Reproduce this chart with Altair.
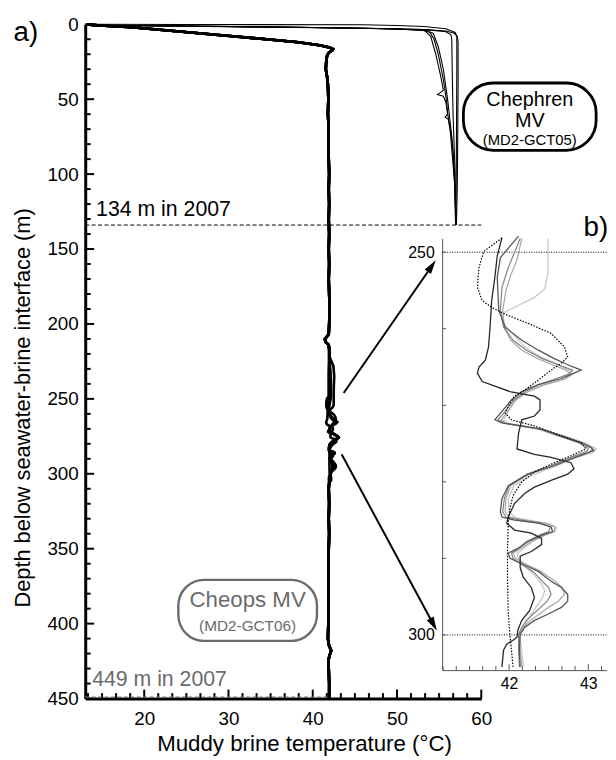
import altair as alt
import pandas as pd

FONT = "Liberation Sans"

# ---------------- Chephren MV (MD2-GCT05) profiles: depth (m), temperature (°C)
CH1_D = [0, 0.7, 1.5, 2.5, 3.5, 4.5, 6, 8, 12, 40, 80, 110, 134]
CH1_T = [13.2, 14.9, 30, 45, 53, 55.8, 56.8, 57.15, 57.25, 57.25, 57.2, 57.15, 57.05]
CH2_D = [0, 0.6, 1.6, 2.6, 3.6, 5, 7, 10, 30, 60, 100, 134]
CH2_T = [13.2, 14.8, 32, 46, 53.5, 55.8, 56.4, 56.5, 56.55, 56.65, 56.9, 56.95]
CH3_D = [0, 0.8, 1.8, 2.8, 3.8, 8, 20, 35, 44, 45.8, 46.9, 48, 52, 70, 90, 110, 134]
CH3_T = [13.2, 15, 33, 48, 53.2, 54.0, 54.6, 55.2, 55.5, 55.1, 54.8, 55.5, 55.8, 56.3, 56.6, 56.9, 57.0]
CH4_D = [0, 0.7, 1.2, 2.2, 3.2, 4.3, 10, 20, 37, 52, 60, 62, 63.5, 80, 100, 120, 134]
CH4_T = [13.2, 14.9, 25, 40, 50, 53.8, 54.4, 54.9, 55.5, 55.9, 56.0, 55.7, 56.1, 56.6, 56.8, 56.9, 56.95]
CH5_D = [0, 0.5, 1, 2, 3, 4, 6, 15, 30, 50, 75, 100, 134]
CH5_T = [13.2, 14.5, 22, 38, 49, 53, 54.3, 54.9, 55.5, 56.0, 56.5, 56.8, 57.0]
CH6_D = [0, 0.15, 0.3, 0.8, 1.5, 3, 5.5, 8, 30, 80, 134]
CH6_T = [13.2, 25, 46, 50, 53.2, 55.8, 56.9, 57.1, 57.1, 57.05, 57.0]

# ---------------- Cheops MV (MD2-GCT06): shared upper and lower parts
CU_D = [0, 0.4, 0.8, 2, 4, 6, 8, 10, 12, 14, 15.5, 16.5, 17.5, 19, 21, 25, 30, 35, 40, 50,
        60, 70, 80, 90, 100, 110, 120, 130, 140, 150, 160, 170, 180, 190, 200, 207, 210, 212, 214, 217]
CU_T = [13.2, 13.8, 14.8, 18.5, 22.5, 26.5, 30.5, 34.5, 38.3, 40.8, 42.0, 42.4, 42.3, 41.9, 41.7, 41.6, 41.55, 41.7, 41.8, 41.85,
        41.8, 41.9, 41.85, 41.9, 41.95, 41.9, 41.95, 41.9, 41.95, 41.9, 41.95, 41.9, 41.95, 42.0, 41.95, 41.9, 41.45, 41.5, 41.9, 41.95]
CL_D = [306, 310, 320, 330, 340, 350, 360, 370, 380, 390, 400, 410, 415, 418, 421, 425, 430, 440, 450]
CL_T = [41.95, 41.9, 41.95, 41.9, 41.95, 41.9, 41.85, 41.9, 41.85, 41.9, 41.85, 41.8, 41.95, 42.2, 42.0, 41.85, 41.9, 41.95, 41.95]

# ---------------- Cheops detailed profiles (zoomed in panel b)
A_D = [222, 232, 240, 245, 248.1, 250.5, 253.3, 256.3, 259.8, 262.4, 264.1, 265.0, 265.8, 266.9, 267.5, 268.2, 268.5, 268.8,
       269.3, 270.6, 271.4, 271.9, 273.6, 275.7, 276.4, 276.8, 277.5, 278.3, 279.0, 279.8, 280.7, 281.5, 282.8, 284.6,
       285.4, 286.3, 286.7, 287.4, 288.2, 289.1, 289.7, 291.2, 292.5, 293.8, 295.1, 296.8, 298.1, 299.4, 300.3, 300.7,
       301.2, 302.0, 304.2]
A_T = [41.95, 41.9, 41.9, 41.92, 41.91, 41.85, 41.82, 41.78, 41.76, 41.74, 41.70, 41.62, 41.60, 41.66, 41.82, 42.01, 42.16, 42.32,
       42.39, 42.39, 42.32, 42.16, 42.12, 42.10, 42.32, 42.53, 42.78, 42.82, 42.74, 42.53, 42.32, 42.20, 42.07, 41.99,
       41.97, 42.07, 42.28, 42.41, 42.41, 42.28, 42.14, 42.14, 42.18, 42.28, 42.32, 42.26, 42.16, 42.11, 42.10, 42.05,
       41.97, 41.93, 41.91]
B_D = [222, 232, 240, 245, 247.9, 250.7, 253.3, 257.6, 259.8, 261.5, 262.8, 263.9, 264.7, 265.4, 265.8, 266.5, 267.3, 268.2,
       269.3, 270.8, 271.9, 272.3, 272.7, 273.1, 274.0, 274.9, 275.5, 275.9, 276.8, 277.9, 279.0, 280.5, 282.2, 283.9,
       284.6, 285.0, 285.4, 285.9, 286.5, 286.9, 287.8, 288.7, 289.3, 290.0, 290.8, 291.7, 293.0, 293.8, 294.7, 295.6,
       296.4, 297.3, 298.1, 299.0, 299.9, 302.0, 304.2]
B_T = [41.95, 42.0, 42.05, 42.1, 42.12, 41.89, 41.85, 41.87, 41.95, 42.16, 42.37, 42.57, 42.74, 42.91, 42.82, 42.66, 42.37, 42.16,
       42.03, 41.91, 41.82, 41.91, 42.16, 42.41, 42.66, 42.91, 43.03, 43.07, 42.84, 42.57, 42.24, 41.99, 41.91, 41.89,
       41.91, 42.07, 42.37, 42.53, 42.55, 42.43, 42.24, 42.11, 41.99, 42.01, 42.18, 42.37, 42.53, 42.66, 42.74, 42.74,
       42.66, 42.49, 42.32, 42.20, 42.14, 42.13, 42.14]
C_D = [222, 232, 240, 245, 248.2, 252.0, 254.6, 257.6, 259.8, 261.5, 262.8, 263.9, 264.7, 265.4, 265.9, 266.5, 267.3, 268.2,
       269.3, 270.8, 271.9, 272.3, 272.7, 273.1, 274.0, 274.9, 275.6, 276.0, 276.8, 277.9, 279.0, 280.5, 282.2, 283.9,
       284.6, 285.0, 285.4, 285.9, 286.5, 286.9, 287.8, 288.7, 289.3, 290.0, 290.8, 291.7, 293.0, 293.8, 294.7, 295.6,
       296.4, 297.3, 298.1, 299.0, 299.9, 302.0, 304.2]
C_T = [42.0, 42.05, 42.1, 42.13, 42.14, 41.99, 41.91, 41.89, 41.93, 42.05, 42.22, 42.42, 42.62, 42.80, 42.76, 42.60, 42.38, 42.20,
       42.06, 41.95, 41.86, 41.93, 42.14, 42.37, 42.62, 42.88, 43.00, 42.98, 42.78, 42.52, 42.22, 42.00, 41.94, 41.92,
       41.96, 42.14, 42.40, 42.52, 42.50, 42.40, 42.22, 42.12, 42.03, 42.05, 42.16, 42.30, 42.42, 42.50, 42.53, 42.48,
       42.40, 42.30, 42.22, 42.16, 42.12, 42.12, 42.13]
D_D = [222, 232, 240, 245, 248.2, 251.0, 253.0, 255.0, 257.6, 259.8, 261.5, 262.8, 263.9, 264.7, 265.4, 266.0, 266.6, 267.3,
       268.2, 269.3, 270.8, 271.9, 272.4, 272.8, 273.2, 274.0, 274.9, 275.6, 276.1, 276.8, 277.9, 279.0, 280.5, 282.2,
       283.9, 284.6, 285.0, 285.4, 285.9, 286.5, 286.9, 287.8, 288.7, 289.3, 290.0, 290.8, 291.7, 293.0, 293.8, 294.7,
       295.6, 296.4, 297.3, 298.1, 299.0, 299.9, 302.0, 304.2]
D_T = [41.95, 42.1, 42.15, 42.16, 42.16, 42.10, 42.02, 41.96, 41.92, 41.94, 42.02, 42.16, 42.36, 42.55, 42.72, 42.78, 42.70, 42.45,
       42.24, 42.08, 41.98, 41.90, 41.96, 42.18, 42.42, 42.68, 42.94, 43.06, 43.02, 42.80, 42.55, 42.25, 42.02, 41.96,
       41.95, 42.00, 42.20, 42.45, 42.58, 42.57, 42.46, 42.28, 42.15, 42.05, 42.08, 42.22, 42.40, 42.58, 42.67, 42.70,
       42.62, 42.50, 42.38, 42.27, 42.18, 42.13, 42.14, 42.16]
E_D = [222, 228, 235, 242, 245, 248.2, 252.7, 254.8, 255.9, 257.0, 257.8, 258.5, 259.6, 260.9, 262.4, 263.6, 264.5, 265.3,
       266.0, 266.7, 267.4, 268.3, 269.4, 270.8, 271.9, 272.4, 272.8, 273.3, 274.1, 275.0, 275.7, 276.2, 276.9, 278.0,
       279.1, 280.5, 282.2, 283.9, 284.7, 285.1, 285.5, 286.0, 286.5, 287.0, 287.8, 288.7, 289.4, 290.1, 291.0, 292.0,
       293.2, 294.2, 295.2, 296.2, 297.3, 298.3, 299.2, 300.0, 302.0, 304.2]
E_T = [42.0, 42.45, 42.55, 42.5, 42.49, 42.49, 42.49, 42.45, 42.32, 42.11, 41.95, 41.91, 41.95, 42.07, 42.20, 42.38, 42.58, 42.74,
       42.80, 42.66, 42.42, 42.22, 42.08, 41.99, 41.93, 42.00, 42.22, 42.46, 42.72, 42.98, 43.10, 43.05, 42.82, 42.58,
       42.30, 42.06, 41.99, 42.00, 42.08, 42.30, 42.52, 42.60, 42.58, 42.45, 42.30, 42.18, 42.10, 42.12, 42.20, 42.30,
       42.40, 42.45, 42.42, 42.35, 42.28, 42.22, 42.16, 42.13, 42.16, 42.18]
F_D = [222, 232, 240, 245, 248.15, 249.9, 252.0, 254.6, 256.3, 257.2, 258.1, 259.3, 260.6, 262.4, 263.7, 264.5, 265.4, 266.7,
       268.0, 268.8, 270.1, 271.0, 271.9, 272.7, 274.0, 274.9, 275.7, 276.6, 277.5, 278.7, 280.0, 281.8, 283.5, 285.2,
       288.7, 293.0, 297.3, 299.9, 302.0, 304.2]
F_T = [41.95, 41.93, 41.92, 41.91, 41.91, 41.68, 41.62, 41.60, 41.66, 41.78, 41.95, 42.24, 42.53, 42.70, 42.74, 42.66, 42.53, 42.37,
       42.20, 42.07, 41.99, 41.95, 42.03, 42.32, 42.66, 42.91, 42.97, 42.78, 42.57, 42.32, 42.16, 42.05, 42.01, 41.99,
       41.98, 41.98, 41.99, 42.01, 42.03, 42.05]

# ---------------- tick / label values
Y_LABELS = [0, 50, 100, 150, 200, 250, 300, 350, 400, 450]
X_LABELS = [20, 30, 40, 50, 60]
INSET_Y_LABELS = [250, 300]
INSET_X_LABELS = [42, 43]


def frame(name, depths, temps):
    assert len(depths) == len(temps), name
    return pd.DataFrame({"trace": name, "i": list(range(len(depths))), "depth": depths, "temp": temps})


chephren = pd.concat([
    frame("Ch1", CH1_D, CH1_T), frame("Ch2", CH2_D, CH2_T), frame("Ch3", CH3_D, CH3_T),
    frame("Ch4", CH4_D, CH4_T), frame("Ch5", CH5_D, CH5_T), frame("Ch6", CH6_D, CH6_T)])

DETAIL = {"A": (A_D, A_T), "B": (B_D, B_T), "C": (C_D, C_T), "D": (D_D, D_T), "E": (E_D, E_T), "F": (F_D, F_T)}
cheops_main = pd.concat([frame(k, CU_D + d + CL_D, CU_T + t + CL_T) for k, (d, t) in DETAIL.items()])

# ---------------- scales (main panel a, inset panel b); every layer states its scale fully
XM = alt.Scale(domain=[13.0, 60], range=[0, 400], nice=False, zero=False)
YM = alt.Scale(domain=[0, 450], range=[0, 681], nice=False, zero=False)
XI = alt.Scale(domain=[41.155, 43.23], range=[360.5, 526.5], nice=False, zero=False)
YI = alt.Scale(domain=[248.2, 304.6], range=[216.3, 652.3], nice=False, zero=False)

lab_common = dict(grid=False, ticks=False, tickSize=0, labelFont=FONT, labelColor="black", labelFlush=False)
title_common = dict(titleFont=FONT, titleColor="black", titleFontWeight="normal")

x_axis = alt.Axis(values=X_LABELS, orient="bottom", domainColor="black", domainWidth=3, labelFontSize=19,
                  labelPadding=11, title="Muddy brine temperature (°C)", titleFontSize=22.5, titleX=221, titleY=45,
                  titleAlign="center", titleBaseline="middle", **lab_common, **title_common)
y_axis = alt.Axis(values=Y_LABELS, orient="left", domainColor="black", domainWidth=3, labelFontSize=19,
                  labelPadding=7, title="Depth below seawater-brine interface (m)", titleFontSize=22,
                  titleAngle=270, titleX=-63, titleY=387, titleAlign="center", titleBaseline="middle",
                  **lab_common, **title_common)


def xm(field):
    return alt.X(field, type="quantitative", scale=XM, axis=None)


def ym(field):
    return alt.Y(field, type="quantitative", scale=YM, axis=None)


# ---- main panel layers
ch_layer = alt.Chart(chephren).mark_line(color="black", strokeWidth=1.1).encode(
    x=alt.X("temp:Q", scale=XM, axis=x_axis), y=alt.Y("depth:Q", scale=YM, axis=y_axis),
    detail="trace:N", order="i:Q")
cheops_layer = alt.Chart(cheops_main).mark_line(color="black", strokeWidth=2.6).encode(
    x=xm("temp"), y=ym("depth"), detail="trace:N", order="i:Q")

ytick_major = pd.DataFrame({"depth": Y_LABELS})
ytick_minor = pd.DataFrame({"depth": [v for v in range(0, 451, 10) if v % 50 != 0]})
xtick_major = pd.DataFrame({"temp": X_LABELS})
xtick_minor = pd.DataFrame({"temp": [round(20 + k * 10 / 6, 3) for k in range(-4, 24) if k % 6 != 0]})

yt1 = alt.Chart(ytick_major).mark_rule(color="black", strokeWidth=2).encode(
    y=ym("depth"), x=alt.value(0), x2=alt.value(9))
yt2 = alt.Chart(ytick_minor).mark_rule(color="black", strokeWidth=2).encode(
    y=ym("depth"), x=alt.value(0), x2=alt.value(5.5))
xt1 = alt.Chart(xtick_major).mark_rule(color="black", strokeWidth=2).encode(
    x=xm("temp"), y=alt.value(681), y2=alt.value(672))
xt2 = alt.Chart(xtick_minor).mark_rule(color="black", strokeWidth=2).encode(
    x=xm("temp"), y=alt.value(681), y2=alt.value(675.5))

# dashed level lines
lvl134 = alt.Chart(pd.DataFrame({"t1": [13.0], "t2": [60.0], "d": [134]})).mark_rule(
    color="black", strokeWidth=1, strokeDash=[4, 2.5]).encode(x=xm("t1"), x2="t2", y=ym("d"))
lvl449 = alt.Chart(pd.DataFrame({"t1": [13.0], "t2": [41.8], "d": [449]})).mark_rule(
    color="#707070", strokeWidth=1.2, strokeDash=[4, 2.5]).encode(x=xm("t1"), x2="t2", y=ym("d"))

# label boxes
box_ch = alt.Chart(pd.DataFrame({"t1": [57.88], "t2": [73.63], "d1": [39.2], "d2": [84.1]})).mark_rect(
    cornerRadius=30, fillOpacity=0, stroke="black", strokeWidth=2.8).encode(
    x=xm("t1"), x2="t2", y=ym("d1"), y2="d2")
box_co = alt.Chart(pd.DataFrame({"t1": [24.05], "t2": [40.5], "d1": [370.8], "d2": [411.5]})).mark_rect(
    cornerRadius=26, fillOpacity=0, stroke="#6b6b6b", strokeWidth=2.4).encode(
    x=xm("t1"), x2="t2", y=ym("d1"), y2="d2")


def texts(rows, size, color="black", align="center", line_height=None):
    df = pd.DataFrame(rows, columns=["t", "d", "label"])
    mk = dict(font=FONT, fontSize=size, color=color, align=align, baseline="middle")
    if line_height:
        mk["lineBreak"] = "\n"
        mk["lineHeight"] = line_height
    return alt.Chart(df).mark_text(**mk).encode(x=xm("t"), y=ym("d"), text="label:N")


txt_panels = texts([[5.95, 6.1, "a)"], [73.6, 135.7, "b)"]], 28)
txt_134 = texts([[14.29, 123.8, "134 m in 2007"]], 21.5, align="left")
txt_449 = texts([[13.82, 437.9, "449 m in 2007"]], 21.5, color="#6b6b6b", align="left")
txt_ch_big = texts([[65.76, 50.6, "Chephren\nMV"]], 20, line_height=21)
txt_ch_small = texts([[65.76, 77.0, "(MD2-GCT05)"]], 15)
txt_co_big = texts([[32.27, 384.0, "Cheops MV"]], 22.5, color="#6b6b6b")
txt_co_small = texts([[32.27, 401.6, "(MD2-GCT06)"]], 15.5, color="#6b6b6b")

# arrows from panel a to panel b
arrows = pd.DataFrame({"t1": [43.67, 43.43], "d1": [246.1, 287.0], "t2": [54.13, 54.33], "d2": [161.3, 400.6],
                       "ang": [34.7, 151.6]})
arrow_lines = alt.Chart(arrows).mark_rule(color="black", strokeWidth=2).encode(
    x=xm("t1"), x2="t2", y=ym("d1"), y2="d2")
arrow_heads = alt.Chart(arrows).mark_point(shape="M0,-1L0.55,1L-0.55,1Z", filled=True, size=200,
                                          color="black", opacity=1).encode(
    x=xm("t2"), y=ym("d2"), angle=alt.Angle("ang:Q", scale=None))

main_layers = [ch_layer, cheops_layer, yt1, yt2, xt1, xt2, lvl134, lvl449, box_ch, box_co,
               txt_panels, txt_134, txt_449, txt_ch_big, txt_ch_small, txt_co_big, txt_co_small,
               arrow_lines, arrow_heads]

# ---- inset panel layers
inset_x_axis = alt.Axis(values=INSET_X_LABELS, orient="bottom", offset=-28.7, domainColor="#555555",
                        domainWidth=1, labelFontSize=16, labelPadding=6, title=None, **lab_common)
inset_y_axis = alt.Axis(values=INSET_Y_LABELS, orient="left", offset=-360.5, domainColor="#555555",
                        domainWidth=1, labelFontSize=16, labelPadding=8, labelBaseline="middle", title=None,
                        **lab_common)

hl = alt.Chart(pd.DataFrame({"t1": [41.155, 41.155], "t2": [43.23, 43.23], "d": INSET_Y_LABELS})).mark_rule(
    color="black", strokeWidth=1, strokeDash=[1, 1.5]).encode(
    x=alt.X("t1:Q", scale=XI, axis=inset_x_axis), x2="t2",
    y=alt.Y("d:Q", scale=YI, axis=inset_y_axis))

iyt = alt.Chart(pd.DataFrame({"d": list(range(250, 301, 10))})).mark_rule(color="#555555", strokeWidth=1).encode(
    y=alt.Y("d:Q", scale=YI, axis=None), x=alt.value(360.5), x2=alt.value(364.5))
ixt_major = alt.Chart(pd.DataFrame({"t": INSET_X_LABELS})).mark_rule(color="#555555", strokeWidth=1).encode(
    x=alt.X("t:Q", scale=XI, axis=None), y=alt.value(652.3), y2=alt.value(646.3))
ixt_minor = alt.Chart(pd.DataFrame({"t": [round(41 + k / 6, 3) for k in range(1, 14) if k % 6 != 0]})).mark_rule(
    color="#555555", strokeWidth=1).encode(
    x=alt.X("t:Q", scale=XI, axis=None), y=alt.value(652.3), y2=alt.value(648.3))

STYLES = [("E", "#c8c8c8", 1.3, None), ("D", "#a6a6a6", 1.2, None), ("C", "#808080", 1.2, None),
          ("B", "#555555", 1.3, None), ("A", "#262626", 1.3, None), ("F", "black", 1.2, [1.5, 1.5])]
inset_traces = []
for key, col, w, dash in STYLES:
    d, t = DETAIL[key]
    df = frame(key, d, t)
    df = df[df["depth"] >= 247.5]
    mk = dict(color=col, strokeWidth=w)
    if dash:
        mk["strokeDash"] = dash
    inset_traces.append(alt.Chart(df).mark_line(**mk).encode(
        x=alt.X("temp:Q", scale=XI, axis=None), y=alt.Y("depth:Q", scale=YI, axis=None), order="i:Q"))

inset_layers = [hl, iyt, ixt_major, ixt_minor] + inset_traces

chart = alt.layer(*main_layers, *inset_layers).resolve_scale(x="independent", y="independent").properties(
    width=526, height=681,
    autosize=alt.AutoSizeParams(type="none"),
    padding={"left": 78, "top": 12.7, "right": 2, "bottom": 55},
).configure(font=FONT, background="white").configure_view(stroke=None)

chart.save("out.html", embed_options={"renderer": "svg", "actions": False})
